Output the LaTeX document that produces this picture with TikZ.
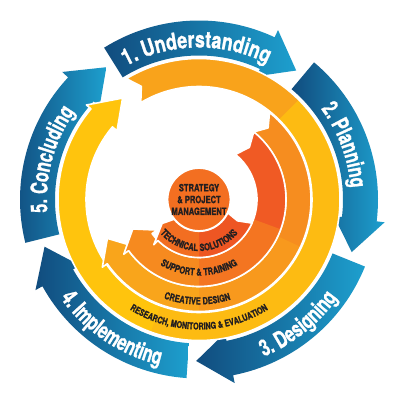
\documentclass[tikz,border=0pt]{standalone}
\usepackage{fontspec}
\usetikzlibrary{decorations.text}
\newfontfamily\bluefont[FakeStretch=0.70, FakeBold=1]{TeX Gyre Heros}
\newfontfamily\bluefontwide[FakeStretch=0.78, FakeBold=1]{TeX Gyre Heros}
\newfontfamily\innerfont[FakeStretch=0.76, FakeBold=1.2]{TeX Gyre Heros}
\newcommand\bigfont{\bluefont\bfseries\fontsize{23}{23}\selectfont}
\newcommand\bigwidefont{\bluefontwide\bfseries\fontsize{23}{23}\selectfont}
\newcommand\smallfont{\innerfont\bfseries\fontsize{9.8}{9.8}\selectfont}
\newcommand\tinyfont{\innerfont\bfseries\fontsize{9.4}{9.4}\selectfont}
\definecolor{bluedark}{HTML}{114C7E}
\definecolor{bluelight}{HTML}{1D9FCE}
\definecolor{coreorange}{HTML}{F36F21}
\definecolor{techA}{HTML}{F26E21}
\definecolor{techB}{HTML}{EE5623}
\definecolor{supA}{HTML}{F68A1F}
\definecolor{supB}{HTML}{F47521}
\definecolor{supC}{HTML}{F05A24}
\definecolor{creA}{HTML}{F9A51B}
\definecolor{creB}{HTML}{F8991D}
\definecolor{creC}{HTML}{F68D1F}
\definecolor{resmid}{HTML}{FDBB12}
\definecolor{restop}{HTML}{F9A31B}
\definecolor{resleft}{HTML}{FFC40D}
\definecolor{ink}{HTML}{231F20}
% #1 inner r, #2 outer r, #3 tail angle, #4 head base angle, #5 tip angle, #6 barb, #7 notch
\newcommand\arrowpath[7]{(#3:#2pt) arc[start angle=#3, end angle=#4, radius=#2pt] -- ({#4}:{#2pt+#6pt}) -- ({#5}:{(#1pt+#2pt)/2}) -- ({#4}:{#1pt-#6pt}) -- ({#4}:{#1pt}) arc[start angle=#4, end angle=#3, radius=#1pt] -- ({#3-#7}:{(#1pt+#2pt)/2}) -- cycle}
\newcommand\wedgefill[3]{\fill[#1] (0,0) -- ({#2}:250pt) arc[start angle=#2, end angle=#3, radius=250pt] -- cycle;}
\tikzset{
  bandline/.style={draw=white, line width=1.6pt, line join=round},
  bluearrow/.style={left color=bluedark, right color=bluelight},
  corecircle/.style={circle, fill=coreorange, draw=white, line width=2pt, minimum size=60pt, inner sep=0pt, align=center, text=ink, font=\innerfont\bfseries\fontsize{10}{11.8}\selectfont}
}
\begin{document}
\begin{tikzpicture}[x=1pt,y=1pt]
\useasboundingbox (0,0) rectangle (400,400);
\fill[white] (0,0) rectangle (400,400);
\begin{scope}[shift={(199,200.5)}]
  % blue outer arrows
  \shade[bluearrow] \arrowpath{144}{179}{122}{65}{53}{8}{0};
  \shade[bluearrow] \arrowpath{144}{179}{50}{-7}{-19}{8}{0};
  \shade[bluearrow] \arrowpath{144}{179}{-22}{-79}{-91}{8}{0};
  \shade[bluearrow] \arrowpath{144}{179}{-94}{-151}{-163}{8}{0};
  \shade[bluearrow] \arrowpath{144}{179}{-166}{-223}{-235}{8}{0};
  % blue labels
  \path[decorate, decoration={text along path, text align=center, text color=white, text={|\bigwidefont|1. Understanding}}] (131:152pt) arc[start angle=131, end angle=51, radius=152pt];
  \path[decorate, decoration={text along path, text align=center, text color=white, text={|\bigfont|2. Planning}}] (60.5:152pt) arc[start angle=60.5, end angle=-19.5, radius=152pt];
  \path[decorate, decoration={text along path, text align=center, text color=white, text={|\bigfont|3. Designing}}] (-91.5:170pt) arc[start angle=-91.5, end angle=-11.5, radius=170pt];
  \path[decorate, decoration={text along path, text align=center, text color=white, text={|\bigfont|4. Implementing}}] (196:170pt) arc[start angle=196, end angle=276, radius=170pt];
  \path[decorate, decoration={text along path, text align=center, text color=white, text={|\bigfont|5. Concluding}}] (204.8:152pt) arc[start angle=204.8, end angle=124.8, radius=152pt];
  % research ring
  \begin{scope}
    \clip \arrowpath{113}{141}{121}{-220}{-233}{6}{4};
    \fill[resmid] (-250,-250) rectangle (250,250);
    \wedgefill{restop}{45}{125}
    \wedgefill{resleft}{125}{250}
  \end{scope}
  \path[bandline] \arrowpath{113}{141}{121}{-220}{-233}{6}{4};
  % creative ring
  \begin{scope}
    \clip \arrowpath{87}{112}{51}{-145}{-157}{6}{5};
    \fill[creC] (-250,-250) rectangle (250,250);
    \wedgefill{creB}{-90}{-25}
    \wedgefill{creA}{-200}{-90}
  \end{scope}
  \path[bandline] \arrowpath{87}{112}{51}{-145}{-157}{6}{5};
  % support ring
  \begin{scope}
    \clip \arrowpath{58}{87}{51}{-144}{-156}{6}{5};
    \fill[supC] (-250,-250) rectangle (250,250);
    \wedgefill{supB}{-90}{-20}
    \wedgefill{supA}{-200}{-90}
  \end{scope}
  \path[bandline] \arrowpath{58}{87}{51}{-144}{-156}{6}{5};
  % technical ring
  \begin{scope}
    \clip \arrowpath{30}{58}{-24}{-135}{-147}{6}{5};
    \fill[techB] (-250,-250) rectangle (250,250);
    \wedgefill{techA}{-200}{-90}
  \end{scope}
  \path[bandline] \arrowpath{30}{58}{-24}{-135}{-147}{6}{5};
  % ring labels
  \path[decorate, decoration={text along path, text align=center, text color=ink, text={|\smallfont|TECHNICAL SOLUTIONS}}] (200:51.5pt) arc[start angle=200, end angle=340, radius=51.5pt];
  \path[decorate, decoration={text along path, text align=center, text color=ink, text={|\smallfont|SUPPORT {\&} TRAINING}}] (210:76pt) arc[start angle=210, end angle=330, radius=76pt];
  \path[decorate, decoration={text along path, text align=center, text color=ink, text={|\smallfont|CREATIVE DESIGN}}] (220:105pt) arc[start angle=220, end angle=318, radius=105pt];
  \path[decorate, decoration={text along path, text align=center, text color=ink, text={|\tinyfont|RESEARCH, MONITORING {\&} EVALUATION}}] (213:130pt) arc[start angle=213, end angle=327, radius=130pt];
  % core
  \node[corecircle] (core) at (0,0) {STRATEGY\\\& PROJECT\\MANAGEMENT};
\end{scope}
\end{tikzpicture}
\end{document}
